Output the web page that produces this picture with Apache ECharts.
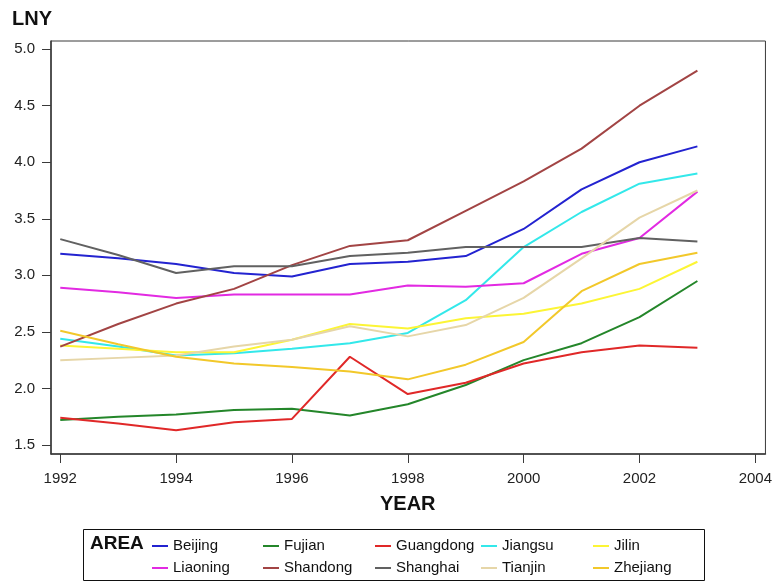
<!DOCTYPE html>
<html>
<head>
<meta charset="utf-8">
<script src="https://cdn.jsdelivr.net/npm/echarts@6/dist/echarts.min.js"></script>
<style>
  html, body { margin: 0; padding: 0; background: #fff; }
  #chart { width: 775px; height: 582px; }
</style>
</head>
<body>
<div id="chart"></div>
<script>
// Years on the horizontal axis
const years = [1992, 1993, 1994, 1995, 1996, 1997, 1998, 1999, 2000, 2001, 2002, 2003];

// LNY by area
const beijing   = [3.19, 3.15, 3.10, 3.02, 2.99, 3.10, 3.12, 3.17, 3.41, 3.76, 4.00, 4.14];
const fujian    = [1.72, 1.75, 1.77, 1.81, 1.82, 1.76, 1.86, 2.03, 2.25, 2.40, 2.63, 2.95];
const guangdong = [1.74, 1.69, 1.63, 1.70, 1.73, 2.28, 1.95, 2.05, 2.22, 2.32, 2.38, 2.36];
const jiangsu   = [2.44, 2.37, 2.29, 2.31, 2.35, 2.40, 2.49, 2.78, 3.25, 3.56, 3.81, 3.90];
const jilin     = [2.38, 2.35, 2.32, 2.32, 2.43, 2.57, 2.53, 2.62, 2.66, 2.75, 2.88, 3.12];
const liaoning  = [2.89, 2.85, 2.80, 2.83, 2.83, 2.83, 2.91, 2.90, 2.93, 3.19, 3.33, 3.74];
const shandong  = [2.37, 2.57, 2.75, 2.88, 3.09, 3.26, 3.31, 3.57, 3.83, 4.12, 4.50, 4.81];
const shanghai  = [3.32, 3.18, 3.02, 3.08, 3.08, 3.17, 3.20, 3.25, 3.25, 3.25, 3.33, 3.30];
const tianjin   = [2.25, 2.27, 2.29, 2.37, 2.43, 2.55, 2.46, 2.56, 2.80, 3.15, 3.51, 3.75];
const zhejiang  = [2.51, 2.39, 2.28, 2.22, 2.19, 2.15, 2.08, 2.21, 2.41, 2.86, 3.10, 3.20];

// Tick values
const xTicks = [1992, 1994, 1996, 1998, 2000, 2002, 2004];
const yTicks = [1.5, 2.0, 2.5, 3.0, 3.5, 4.0, 4.5, 5.0];

const areas = [
  { name: 'Beijing',   data: beijing,   color: '#2323d0' },
  { name: 'Fujian',    data: fujian,    color: '#24862a' },
  { name: 'Guangdong', data: guangdong, color: '#e02828' },
  { name: 'Jiangsu',   data: jiangsu,   color: '#33e8ea' },
  { name: 'Jilin',     data: jilin,     color: '#fcf535' },
  { name: 'Liaoning',  data: liaoning,  color: '#e22ae2' },
  { name: 'Shandong',  data: shandong,  color: '#a24444' },
  { name: 'Shanghai',  data: shanghai,  color: '#616161' },
  { name: 'Tianjin',   data: tianjin,   color: '#e6d6a8' },
  { name: 'Zhejiang',  data: zhejiang,  color: '#f2c82a' }
];

const FONT = '"Liberation Sans", Arial, sans-serif';

const series = areas.map(a => ({
  name: a.name,
  type: 'line',
  data: years.map((y, i) => [y, a.data[i]]),
  showSymbol: false,
  symbol: 'none',
  lineStyle: { color: a.color, width: 2 },
  itemStyle: { color: a.color },
  silent: true
}));

// Legend laid out as five columns of two entries
const colLeft = [152, 263, 375, 481, 593];
const legends = colLeft.map((left, c) => ({
  orient: 'vertical',
  left: left,
  top: 538,
  padding: 0,
  itemGap: 6,
  itemWidth: 16,
  itemHeight: 2,
  icon: 'rect',
  selectedMode: false,
  textStyle: { fontFamily: FONT, fontSize: 15, color: '#111', lineHeight: 16 },
  data: [areas[c].name, areas[c + 5].name]
}));

const chart = echarts.init(document.getElementById('chart'), null, { renderer: 'canvas' });
chart.setOption({
  animation: false,
  backgroundColor: '#fff',
  grid: {
    left: 51, top: 41, right: 9.5, bottom: 128,
    show: true, borderColor: '#3a3a3a', borderWidth: 1, backgroundColor: '#fff'
  },
  xAxis: {
    type: 'value',
    min: 1991.84,
    max: 2004.175,
    splitLine: { show: false },
    axisLine: { show: true, lineStyle: { color: '#3a3a3a', width: 1.5 } },
    axisTick: { show: true, length: 9, customValues: xTicks, lineStyle: { color: '#3a3a3a' } },
    axisLabel: {
      customValues: xTicks, margin: 17,
      fontFamily: FONT, fontSize: 15, color: '#222',
      formatter: v => String(Math.round(v))
    }
  },
  yAxis: {
    type: 'value',
    min: 1.42,
    max: 5.072,
    splitLine: { show: false },
    axisLine: { show: true, lineStyle: { color: '#3a3a3a', width: 1.5 } },
    axisTick: { show: true, length: 9, customValues: yTicks, lineStyle: { color: '#3a3a3a' } },
    axisLabel: {
      customValues: yTicks, margin: 16,
      fontFamily: FONT, fontSize: 15, color: '#222',
      formatter: v => v.toFixed(1)
    }
  },
  legend: legends,
  graphic: [
    { type: 'text', left: 12, top: 9,
      style: { text: 'LNY', font: 'bold 20px ' + FONT, fill: '#111' } },
    { type: 'text', left: 380, top: 494,
      style: { text: 'YEAR', font: 'bold 20px ' + FONT, fill: '#111' } },
    { type: 'rect', shape: { x: 83.5, y: 529.5, width: 621, height: 51 },
      style: { fill: 'none', stroke: '#111', lineWidth: 1 } },
    { type: 'text', left: 90, top: 534,
      style: { text: 'AREA', font: 'bold 19px ' + FONT, fill: '#111' } }
  ],
  series: series
});
</script>
</body>
</html>
